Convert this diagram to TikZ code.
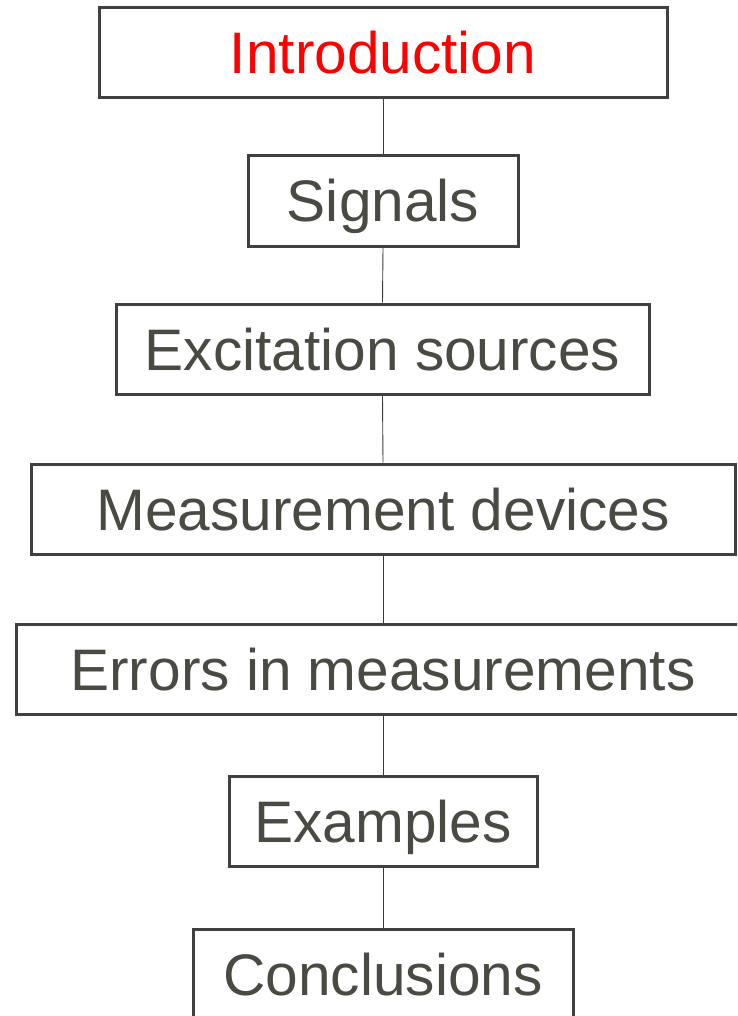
\documentclass[tikz,border=0pt]{standalone}
\usepackage{fontspec}
\setmainfont{Liberation Sans}
\definecolor{boxline}{HTML}{404040}
\definecolor{labeltext}{HTML}{4A4A42}
\definecolor{linkline}{HTML}{3A3A3A}
\definecolor{hilite}{HTML}{FF0000}
\begin{document}
\begin{tikzpicture}[x=1pt,y=-1pt,
  stage/.style={draw=boxline, line width=3pt, fill=white, rectangle,
    minimum height=90pt, inner sep=0pt, text=labeltext,
    text height=42pt, text depth=0pt,
    font=\fontsize{58.6}{60}\selectfont},
  link/.style={draw=linkline, line width=0.9pt}]
  \useasboundingbox (0,0) rectangle (737,1016);
  \clip (0,0) rectangle (737,1016);
  % stages of the talk, top to bottom
  \node[stage, minimum width=568pt, text=hilite] (intro) at (383,53) {Introduction};
  \node[stage, minimum width=270pt] (signals) at (383,201) {Signals};
  \node[stage, minimum width=533pt] (excit) at (382.5,349) {Excitation sources};
  \node[stage, minimum width=704pt] (meas) at (383,509) {Measurement devices};
  \node[stage, minimum width=734pt] (errors) at (383,669) {Errors in measurements};
  \node[stage, minimum width=308pt] (examples) at (383,821) {Examples};
  \node[stage, minimum width=380pt] (concl) at (383,974) {Conclusions};
  % vertical links between consecutive stages
  \draw[link] (intro.south) -- (signals.north);
  \draw[link] (signals.south) -- (excit.north);
  \draw[link] (excit.south) -- (meas.north);
  \draw[link] (meas.south) -- (errors.north);
  \draw[link] (errors.south) -- (examples.north);
  \draw[link] (examples.south) -- (concl.north);
\end{tikzpicture}
\end{document}
